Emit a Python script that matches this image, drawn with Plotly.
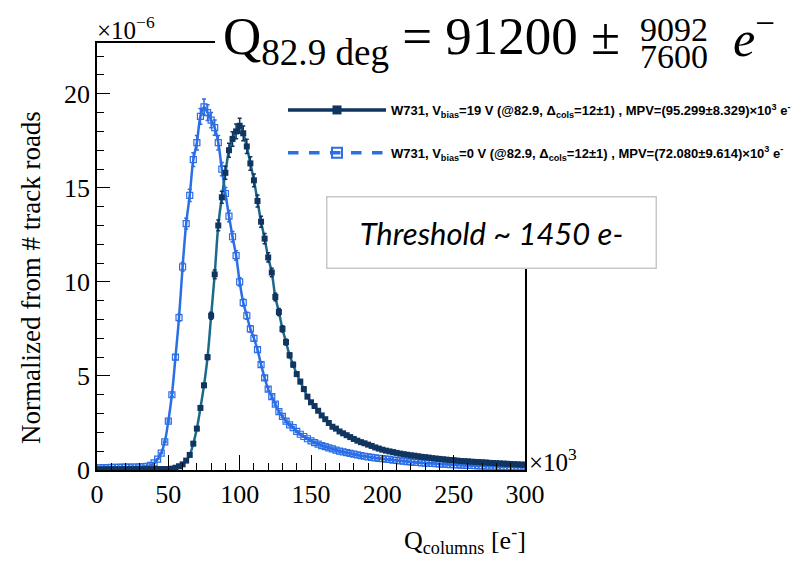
import plotly.graph_objects as go

# ---------------- data (values in units of 1e-6, x in units of 1e3 e-) ----------------
q_bins = [i * 2.5 for i in range(121)]

norm_19v = [
    0.03, 0.03, 0.03, 0.03, 0.03, 0.03, 0.03, 0.03, 0.04, 0.04,
    0.04, 0.04, 0.04, 0.04, 0.04, 0.04, 0.05, 0.05, 0.05, 0.05,
    0.05, 0.07, 0.12, 0.20, 0.30, 0.50, 0.80, 1.40, 2.20, 3.30,
    4.50, 6.00, 8.20, 10.4, 13.0, 14.5, 15.8, 17.0, 17.6, 18.0,
    18.3, 17.9, 17.2, 16.3, 15.4, 14.3, 13.2, 12.3, 11.3, 10.5,
    9.20, 8.40, 7.50, 6.80, 6.10, 5.60, 5.10, 4.70, 4.30, 3.90,
    3.60, 3.40, 3.15, 2.90, 2.70, 2.50, 2.30, 2.20, 2.05, 1.95,
    1.85, 1.75, 1.65, 1.56, 1.48, 1.42, 1.35, 1.28, 1.20, 1.14,
    1.08, 1.03, 0.99, 0.95, 0.91, 0.87, 0.84, 0.81, 0.78, 0.76,
    0.73, 0.70, 0.68, 0.66, 0.63, 0.61, 0.59, 0.57, 0.55, 0.53,
    0.52, 0.50, 0.48, 0.47, 0.46, 0.44, 0.43, 0.42, 0.41, 0.40,
    0.38, 0.37, 0.36, 0.35, 0.34, 0.33, 0.32, 0.31, 0.30, 0.29,
    0.28,
]

norm_0v = [
    0.12, 0.12, 0.13, 0.13, 0.14, 0.14, 0.14, 0.15, 0.15, 0.15,
    0.16, 0.16, 0.17, 0.18, 0.20, 0.25, 0.38, 0.58, 0.90, 1.50,
    2.60, 4.00, 6.00, 8.10, 10.8, 13.1, 14.6, 16.5, 17.4, 18.8,
    19.3, 19.0, 18.6, 18.2, 17.4, 16.0, 14.7, 13.5, 12.4, 11.4,
    10.0, 8.90, 8.20, 7.50, 7.00, 6.40, 5.60, 4.90, 4.30, 3.90,
    3.50, 3.10, 2.85, 2.60, 2.40, 2.25, 2.05, 1.90, 1.78, 1.66,
    1.55, 1.45, 1.38, 1.30, 1.24, 1.18, 1.12, 1.06, 1.00, 0.96,
    0.92, 0.88, 0.84, 0.80, 0.76, 0.73, 0.70, 0.67, 0.64, 0.62,
    0.60, 0.58, 0.56, 0.53, 0.51, 0.49, 0.47, 0.45, 0.43, 0.41,
    0.40, 0.38, 0.37, 0.36, 0.35, 0.34, 0.32, 0.31, 0.30, 0.29,
    0.28, 0.27, 0.26, 0.25, 0.25, 0.24, 0.23, 0.22, 0.22, 0.21,
    0.20, 0.20, 0.19, 0.18, 0.18, 0.17, 0.17, 0.16, 0.16, 0.15,
    0.15,
]

legend_19v = "<b>W731, V<sub>bias</sub>=19 V (@82.9, Δ<sub>cols</sub>=12±1) , MPV=(95.299±8.329)×10<sup>3</sup> e<sup>-</sup></b>"
legend_0v = "<b>W731, V<sub>bias</sub>=0 V (@82.9, Δ<sub>cols</sub>=12±1) , MPV=(72.080±9.614)×10<sup>3</sup> e<sup>-</sup></b>"

x_ticks = [0, 50, 100, 150, 200, 250, 300]
y_ticks = [0, 5, 10, 15, 20]

DARK = "#0f3560"
TEAL = "#1b6a8c"
BLUE = "#2b6ee6"
SERIF = "Liberation Serif, Times New Roman, serif"
SANS = "Liberation Sans, Arial, sans-serif"

fig = go.Figure()

# fit-like lines under the points
fig.add_trace(go.Scatter(x=q_bins, y=norm_0v, mode="lines", line=dict(color=BLUE, width=2.5, shape="spline"),
                         showlegend=False, hoverinfo="skip"))
fig.add_trace(go.Scatter(x=q_bins, y=norm_19v, mode="lines", line=dict(color=TEAL, width=2.5, shape="spline"),
                         showlegend=False, hoverinfo="skip"))

# data points with error bars
fig.add_trace(go.Scatter(x=q_bins, y=norm_0v, mode="markers",
                         marker=dict(symbol="square-open", size=6, color=BLUE, line=dict(width=1.2, color=BLUE)),
                         error_y=dict(type="percent", value=2.2, color=BLUE, thickness=1.5, width=2),
                         showlegend=False))
fig.add_trace(go.Scatter(x=q_bins, y=norm_19v, mode="markers",
                         marker=dict(symbol="square", size=6, color=DARK),
                         error_y=dict(type="percent", value=2.2, color=DARK, thickness=1.5, width=2),
                         showlegend=False))

# legend entries
fig.add_trace(go.Scatter(x=[None], y=[None], mode="lines+markers", name=legend_19v, legendgroup="a",
                         line=dict(color=DARK, width=3.5),
                         marker=dict(symbol="square", size=9, color=DARK)))
fig.add_trace(go.Scatter(x=[None], y=[None], mode="lines+markers", name=legend_0v, legendgroup="b",
                         line=dict(color=BLUE, width=3.5, dash="dash"),
                         marker=dict(symbol="square-open", size=10, color=BLUE, line=dict(width=2, color=BLUE))))

L, R, T, B = 97, 525, 43, 470
W, H = 794, 563


def px(xp):
    return (xp - L) / (R - L)


def py(yp):
    return (B - yp) / (B - T)


fig.update_layout(
    width=W, height=H,
    margin=dict(l=L, r=W - R, t=T, b=H - B, autoexpand=False),
    paper_bgcolor="white", plot_bgcolor="white",
    font=dict(family=SERIF, color="black"),
    showlegend=True,
    legend=dict(x=px(283), y=py(95), xanchor="left", yanchor="top",
                bgcolor="white", borderwidth=0, itemwidth=98,
                font=dict(family=SANS, size=13, color="black"),
                tracegroupgap=23, traceorder="grouped"),
    xaxis=dict(range=[0, 300], tickvals=x_ticks, ticktext=[str(v) for v in x_ticks],
               ticks="inside", ticklen=15, tickwidth=1, tickcolor="black",
               minor=dict(dtick=10, ticks="inside", ticklen=7, tickcolor="black"),
               showline=True, linecolor="black", linewidth=1.5, mirror=True,
               showgrid=False, zeroline=False, tickfont=dict(size=26, family=SERIF)),
    yaxis=dict(range=[0, 22.7], tickvals=y_ticks, ticktext=[str(v) for v in y_ticks],
               ticks="inside", ticklen=13, tickwidth=1, tickcolor="black",
               minor=dict(dtick=1, ticks="inside", ticklen=7, tickcolor="black"),
               showline=True, linecolor="black", linewidth=1.5, mirror=True,
               showgrid=False, zeroline=False, tickfont=dict(size=26, family=SERIF)),
)

# white covers (title / legend areas hide the frame)
fig.add_shape(type="rect", xref="paper", yref="paper", x0=px(215), x1=px(794), y0=py(80), y1=py(-5),
              fillcolor="white", line=dict(width=0), layer="above")
fig.add_shape(type="rect", xref="paper", yref="paper", x0=px(280), x1=px(794), y0=py(197), y1=py(78),
              fillcolor="white", line=dict(width=0), layer="above")

ann = []
ann.append(dict(text="×10<sup>−6</sup>", x=px(95), y=py(28), xanchor="left", yanchor="middle",
                font=dict(size=25, family=SERIF)))
ann.append(dict(text="×10<sup>3</sup>", x=px(527), y=py(460), xanchor="left", yanchor="middle",
                font=dict(size=25, family=SERIF)))
ann.append(dict(text="Normalized from # track roads", x=px(31), y=py(278), textangle=-90,
                xanchor="center", yanchor="middle", font=dict(size=27, family=SERIF)))
ann.append(dict(text="Q<sub>columns</sub> [e<sup>-</sup>]", x=px(528), y=py(540), xanchor="right",
                yanchor="middle", font=dict(size=26, family=SERIF)))
# title
ann.append(dict(text="Q<sub>82.9 deg</sub> = 91200 ±", x=px(622), y=py(40), xanchor="right",
                yanchor="middle", font=dict(size=53, family=SERIF)))
ann.append(dict(text="9092", x=px(674), y=py(30), xanchor="center", yanchor="middle",
                font=dict(size=34, family=SERIF)))
ann.append(dict(text="7600", x=px(674), y=py(56), xanchor="center", yanchor="middle",
                font=dict(size=34, family=SERIF)))
ann.append(dict(text="<i>e</i><sup>−</sup>", x=px(731), y=py(36), xanchor="left", yanchor="middle",
                font=dict(size=50, family=SERIF)))
# threshold box
ann.append(dict(text="<i>Threshold ~ 1450 e-</i>", x=px(491), y=py(232), xanchor="center", yanchor="middle",
                width=326, height=68, bgcolor="white", bordercolor="#c8c8c8", borderwidth=1.5,
                font=dict(size=31, family="Lato, Noto Sans, sans-serif", color="black")))

for a in ann:
    a.update(xref="paper", yref="paper", showarrow=False)
fig.update_layout(annotations=ann)

fig.write_html("out.html", config={"displayModeBar": False})

# remove the browser's default page margin so the figure sits at the window origin
with open("out.html", "r", encoding="utf-8") as f:
    html = f.read()
html = html.replace("<head>", "<head><style>html,body{margin:0;padding:0;overflow:hidden;}</style>", 1)
with open("out.html", "w", encoding="utf-8") as f:
    f.write(html)
